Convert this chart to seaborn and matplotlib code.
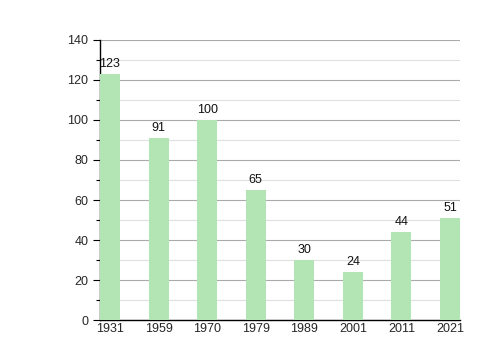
import matplotlib
matplotlib.use("Agg")
import matplotlib.pyplot as plt
import seaborn as sns
import pandas as pd
from matplotlib.ticker import MultipleLocator

# data
years = ["1931", "1959", "1970", "1979", "1989", "2001", "2011", "2021"]
values = [123, 91, 100, 65, 30, 24, 44, 51]

df = pd.DataFrame({"year": years, "value": values})

sns.set_style("white")
plt.rcParams['font.family'] = ['Liberation Sans', 'DejaVu Sans']

fig = plt.figure(figsize=(5, 3.6), dpi=100)
ax = fig.add_axes([0.2, 0.111, 0.72, 0.778])

width = 0.41
sns.barplot(data=df, x="year", y="value", color="#b3e4b3", saturation=1,
            width=width, linewidth=0, ax=ax, zorder=3)

# labels above bars
for i, v in enumerate(values):
    ax.text(i, v + 2, str(v), ha="center", va="bottom", fontsize=9, color="#111111")

ax.set_xlim(-width / 2, len(years) - 1 + width / 2)
ax.set_ylim(0, 140)
ax.yaxis.set_major_locator(MultipleLocator(20))
ax.yaxis.set_minor_locator(MultipleLocator(10))
ax.grid(axis="y", which="major", color="#aaaaaa", linewidth=0.8, zorder=0)
ax.grid(axis="y", which="minor", color="#e0e0e0", linewidth=0.8, zorder=0)
ax.set_axisbelow(True)

for s in ["top", "right"]:
    ax.spines[s].set_visible(False)
ax.spines["left"].set_color("black")
ax.spines["bottom"].set_color("black")
ax.spines["left"].set_linewidth(1)
ax.spines["bottom"].set_linewidth(1)

ax.tick_params(axis="y", which="major", direction="out", length=5, width=0.8,
               color="black", labelsize=9, left=True)
ax.tick_params(axis="y", which="minor", direction="out", length=3, width=0.8,
               color="black", left=True)
ax.tick_params(axis="x", length=0, labelsize=9, pad=2)
ax.set_xlabel("")
ax.set_ylabel("")

fig.savefig("out.png", dpi=100)
